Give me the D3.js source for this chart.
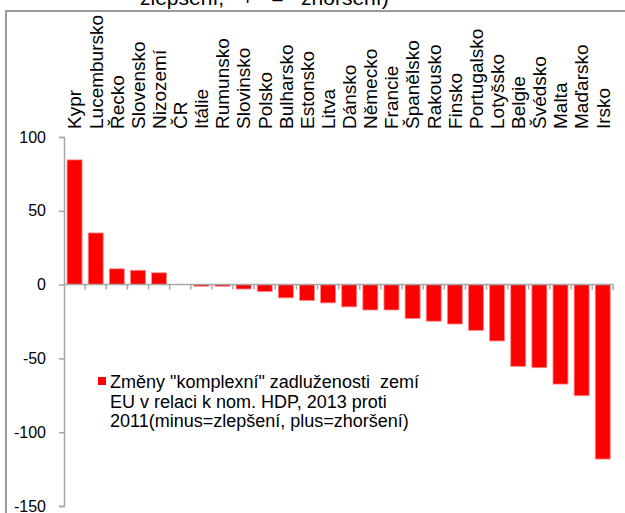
<!DOCTYPE html>
<html>
<head>
<meta charset="utf-8">
<script src="https://cdn.jsdelivr.net/npm/d3@7/dist/d3.min.js"></script>
<style>
  html, body { margin: 0; padding: 0; background: #fff; }
  svg { display: block; font-family: "Liberation Sans", Arial, sans-serif; }
</style>
</head>
<body>
<svg id="chart" width="625" height="513"></svg>
<script>
// Countries, ordered from largest increase to largest decrease
const categories = ["Kypr", "Lucembursko", "Řecko", "Slovensko", "Nizozemí", "ČR", "Itálie",
  "Rumunsko", "Slovinsko", "Polsko", "Bulharsko", "Estonsko", "Litva", "Dánsko", "Německo",
  "Francie", "Španělsko", "Rakousko", "Finsko", "Portugalsko", "Lotyšsko", "Belgie", "Švédsko",
  "Malta", "Maďarsko", "Irsko"];

// Change of "complex" indebtedness relative to nominal GDP, 2013 vs 2011 (p.p.)
const values = [84.5, 35, 10.7, 9.7, 8, 0, -1.1, -1.1, -3, -4.7, -9, -10.8, -12.4, -15.1,
  -17.2, -17.2, -23, -24.8, -26.7, -31, -38.2, -55.4, -56.3, -67.4, -75.3, -118.2];

const yTicks = [100, 50, 0, -50, -100, -150];

const titleTail = "zlepšení, + = zhoršení)";
const legendLines = ["Změny \"komplexní\" zadluženosti  zemí",
  "EU v relaci k nom. HDP, 2013 proti",
  "2011(minus=zlepšení, plus=zhoršení)"];

const svg = d3.select("#chart");
const axisColor = "#a6a6a6";

// Scales
const x = d3.scaleBand().domain(categories).range([64, 613.3]).padding(0);
const y = d3.scaleLinear().domain([-150, 100]).range([506, 137]);
const barW = x.bandwidth() * 0.71;

// Title line partly above the frame
svg.append("text")
  .attr("x", 140).attr("y", 5)
  .attr("font-size", 21).attr("fill", "#000")
  .attr("xml:space", "preserve")
  .text(titleTail.replace("+ = ", "  +   =   "));

// Chart frame
svg.append("path")
  .attr("d", "M6,513 V11 H625")
  .attr("fill", "none").attr("stroke", "#9a9a9a").attr("stroke-width", 2);

// Bars
svg.append("g").selectAll("rect")
  .data(categories.map((c, i) => ({ c, v: values[i] })))
  .join("rect")
  .attr("x", d => x(d.c) + (x.bandwidth() - barW) / 2)
  .attr("width", barW)
  .attr("y", d => Math.min(y(d.v), y(0)))
  .attr("height", d => Math.abs(y(d.v) - y(0)))
  .attr("fill", "#ff0000")
  .attr("stroke", "#ff8c8c").attr("stroke-width", 0.8);

// Zero line with category boundary ticks
const zeroY = y(0);
svg.append("line")
  .attr("x1", 64).attr("x2", 613.3).attr("y1", zeroY).attr("y2", zeroY)
  .attr("stroke", axisColor).attr("stroke-width", 1.5);
svg.append("g").selectAll("line")
  .data(categories)
  .join("line")
  .attr("x1", d => x(d) + x.step()).attr("x2", d => x(d) + x.step())
  .attr("y1", zeroY).attr("y2", zeroY + 5)
  .attr("stroke", axisColor).attr("stroke-width", 1.5);

// Y axis
const yAxis = svg.append("g")
  .attr("transform", "translate(64,0)")
  .call(d3.axisLeft(y).tickValues(yTicks).tickSize(5).tickPadding(13).tickFormat(d3.format("d")));
yAxis.select(".domain").attr("stroke", axisColor).attr("stroke-width", 1.5);
yAxis.selectAll(".tick line").attr("stroke", axisColor).attr("stroke-width", 1.5);
yAxis.selectAll(".tick text")
  .attr("font-size", 16).attr("fill", "#000")
  .attr("font-family", "'Liberation Sans', Arial, sans-serif")
  .text(d => d < 0 ? "-" + Math.abs(d) : d);

// Rotated country labels
svg.append("g").selectAll("text")
  .data(categories)
  .join("text")
  .attr("transform", d => `translate(${x(d) + x.bandwidth() / 2},129) rotate(-90)`)
  .attr("dy", "0.36em")
  .attr("font-size", 19).attr("fill", "#000")
  .attr("text-anchor", "start")
  .text(d => d);

// Legend
const lg = svg.append("g");
lg.append("rect")
  .attr("x", 98).attr("y", 377).attr("width", 8).attr("height", 8)
  .attr("fill", "#ff0000");
lg.append("text")
  .attr("x", 110).attr("font-size", 18).attr("fill", "#000")
  .attr("xml:space", "preserve")
  .selectAll("tspan")
  .data(legendLines)
  .join("tspan")
  .attr("x", 110)
  .attr("y", (d, i) => 388 + i * 19.5)
  .text(d => d);
</script>
</body>
</html>
